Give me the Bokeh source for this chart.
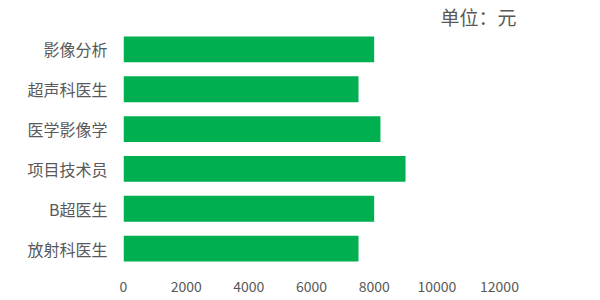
from bokeh.plotting import figure
from bokeh.models import FactorRange, Range1d, FixedTicker
from bokeh.embed import file_html
from bokeh.resources import INLINE

# Monthly salary by position (unit: yuan), listed top to bottom
positions = ["影像分析", "超声科医生", "医学影像学", "项目技术员", "B超医生", "放射科医生"]
salaries = [8000, 7500, 8200, 9000, 8000, 7500]
x_ticks = [0, 2000, 4000, 6000, 8000, 10000, 12000]
unit_text = "单位：元"

FONT = "Noto Sans CJK SC"
TEXT_COLOR = "#595959"

p = figure(
    width=600, height=300,
    y_range=FactorRange(*reversed(positions), range_padding=0),
    x_range=Range1d(0, 12000),
    output_backend="svg", toolbar_location=None,
    min_border_left=123, min_border_right=101,
    min_border_top=0, min_border_bottom=32,
    title=unit_text,
)

p.hbar(y=positions, right=salaries, left=0, height=0.65,
       color="#00B050", line_color=None)

# Unit note sits at the top right, as the title
p.title.text_font = FONT
p.title.text_font_size = "19px"
p.title.text_font_style = "normal"
p.title.text_color = TEXT_COLOR
p.title.align = "left"
p.title.offset = 317
p.title.standoff = 0

p.outline_line_color = None
p.grid.visible = False
p.background_fill_color = "white"
p.border_fill_color = "white"

p.xaxis.ticker = FixedTicker(ticks=x_ticks)
p.xaxis.axis_line_color = None
p.xaxis.major_tick_line_color = None
p.xaxis.minor_tick_line_color = None
p.xaxis.major_label_standoff = 6
p.xaxis.major_label_text_font = FONT
p.xaxis.major_label_text_font_size = "14px"
p.xaxis.major_label_text_color = TEXT_COLOR

p.yaxis.axis_line_color = None
p.yaxis.major_tick_line_color = None
p.yaxis.minor_tick_line_color = None
p.yaxis.major_label_standoff = 10
p.yaxis.major_label_text_font = FONT
p.yaxis.major_label_text_font_size = "16px"
p.yaxis.major_label_text_color = TEXT_COLOR

open("out.html", "w").write(file_html(p, INLINE))
